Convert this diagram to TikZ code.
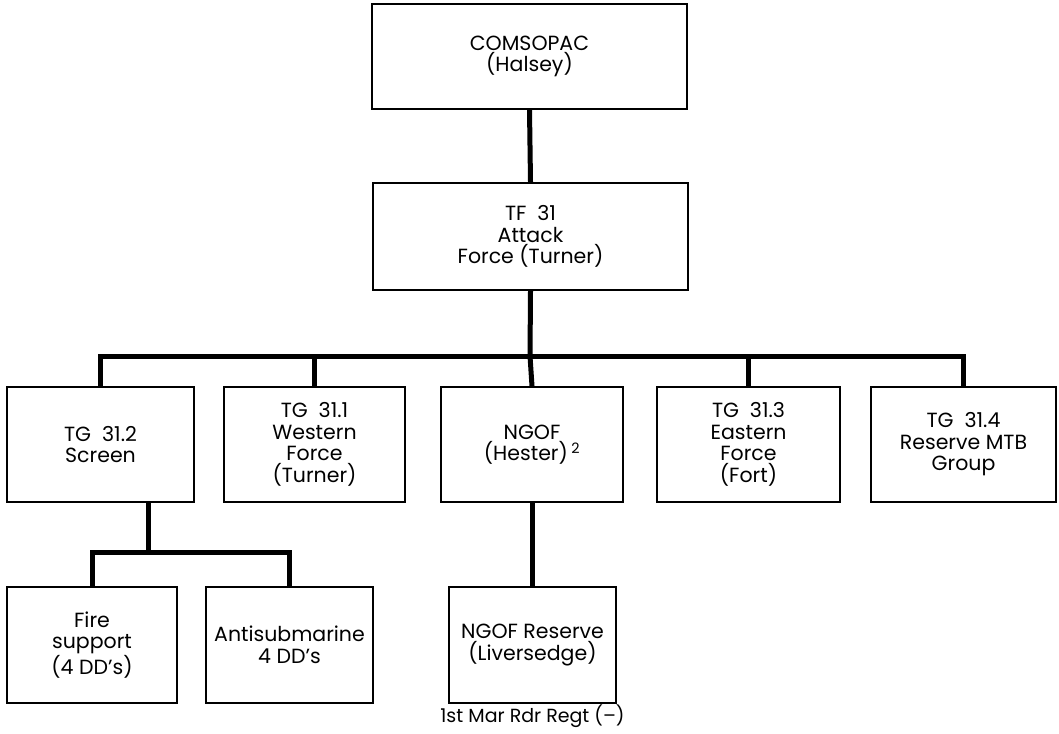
\documentclass[tikz,border=0pt]{standalone}
\usepackage{fontspec}
\setmainfont{Poppins}
\usepackage{tikz}
\usetikzlibrary{calc, positioning}

\begin{document}
\begin{tikzpicture}[x=1pt, y=-1pt,
		box/.style={draw, line width=1.8pt, align=center, inner sep=2pt,
			font=\fontsize{20.5}{21.5}\selectfont},
		link/.style={line width=5pt}]
		\useasboundingbox (0,0) rectangle (1059,733);

		% command levels
		\node[box, minimum width=315pt, minimum height=105pt] (com) at (529.5,56.5) {COMSOPAC\\(Halsey)};
		\node[box, minimum width=315pt, minimum height=107pt] (tf) at (530.5,236.5) {TF\ \ 31\\Attack\\Force (Turner)};

		\node[box, minimum width=187pt, minimum height=115pt] (tg2) at (100.5,444.5) {TG\ \ 31.2\\Screen};
		\node[box, minimum width=181pt, minimum height=115pt] (tg1) at (314.5,444.5) {TG\ \ 31.1\\Western\\Force\\(Turner)};
		\node[box, minimum width=182pt, minimum height=115pt] (ngof) at (532,444.5) {NGOF\\(Hester)\,\textsuperscript{2}};
		\node[box, minimum width=183pt, minimum height=115pt] (tg3) at (748.5,444.5) {TG\ \ 31.3\\Eastern\\Force\\(Fort)};
		\node[box, minimum width=185pt, minimum height=115pt] (tg4) at (963.5,444.5) {TG\ \ 31.4\\Reserve MTB\\Group};

		\node[box, minimum width=170pt, minimum height=116pt] (fire) at (92,645) {Fire\\support\\(4 DD's)};
		\node[box, minimum width=167pt, minimum height=116pt] (asw) at (289.5,645) {Antisubmarine\\4 DD's};
		\node[box, minimum width=167pt, minimum height=116pt] (res) at (532.5,645) {NGOF Reserve\\(Liversedge)};
		\node[font=\fontsize{19}{20}\selectfont, inner sep=0pt, below=1pt of res] (regt) {1st Mar Rdr Regt (--)};

		% bus lines
		\coordinate (bus) at (530,356);
		\coordinate (sbus) at (148,552);

		\draw[link] (com.south) -- (tf.north);
		\draw[link] (tf.south) -- (bus);
		\draw[link] (tg2.north) |- (bus) -| (tg4.north);
		\draw[link] (bus -| tg1.north) -- (tg1.north);
		\draw[link] (bus) -- (ngof.north);
		\draw[link] (bus -| tg3.north) -- (tg3.north);

		\draw[link] (tg2.south -| sbus) -- (sbus);
		\draw[link] (fire.north) |- (sbus) -| (asw.north);
		\draw[link] (ngof.south -| res.north) -- (res.north);

	\end{tikzpicture}
\end{document}
